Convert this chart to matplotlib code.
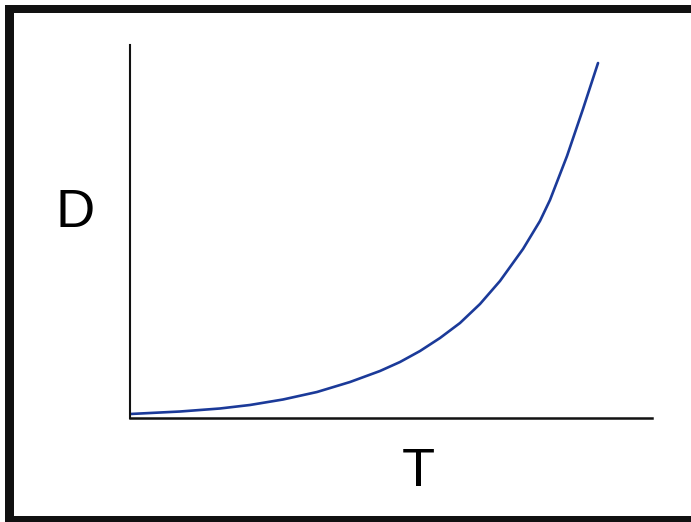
"""Curva D frente a T con marco negro."""
import matplotlib.pyplot as plt
from matplotlib.patches import Rectangle

# valores (unidades arbitrarias, 0-10)
t_vals = [0.0, 0.958, 1.724, 2.299, 2.931, 3.582, 4.215, 4.789, 5.172, 5.556,
          5.939, 6.322, 6.705, 7.088, 7.529, 7.854, 8.046, 8.372, 8.678, 8.966]
d_vals = [0.107, 0.174, 0.255, 0.349, 0.496, 0.697, 0.965, 1.260, 1.501, 1.796,
          2.145, 2.547, 3.056, 3.673, 4.531, 5.282, 5.845, 7.024, 8.284, 9.517]

W, H = 691, 522
fig = plt.figure(figsize=(W / 100, H / 100), dpi=100)
fig.patch.set_facecolor("white")


def px_rect(x0, y0, x1, y1):
    """Rectángulo en píxeles (origen arriba a la izquierda)."""
    return Rectangle((x0 / W, 1 - y1 / H), (x1 - x0) / W, (y1 - y0) / H,
                     transform=fig.transFigure, color="#111111", lw=0)


# marco
fig.add_artist(px_rect(5, 5, W, 13))
fig.add_artist(px_rect(5, 5, 14, H))
fig.add_artist(px_rect(5, 516, W, H))

ax = fig.add_axes([130 / W, (H - 418) / H, 522 / W, 373 / H])
ax.plot(t_vals, d_vals, color="#1b3a99", lw=1.9, solid_capstyle="round",
        solid_joinstyle="round")
ax.set_xlim(0, 10)
ax.set_ylim(0, 10)
ax.spines["top"].set_visible(False)
ax.spines["right"].set_visible(False)
ax.spines["left"].set_linewidth(1.5)
ax.spines["bottom"].set_linewidth(1.8)
ax.spines["left"].set_color("#111111")
ax.spines["bottom"].set_color("#111111")
ax.set_xticks([])
ax.set_yticks([])

fig.text(75 / W, 1 - 213 / H, "D", family="Liberation Sans", fontsize=39,
         ha="center", va="center", color="black")
fig.text(418 / W, 1 - 472 / H, "T", family="Liberation Sans", fontsize=39,
         ha="center", va="center", color="black")

plt.savefig("out.png", dpi=100)
